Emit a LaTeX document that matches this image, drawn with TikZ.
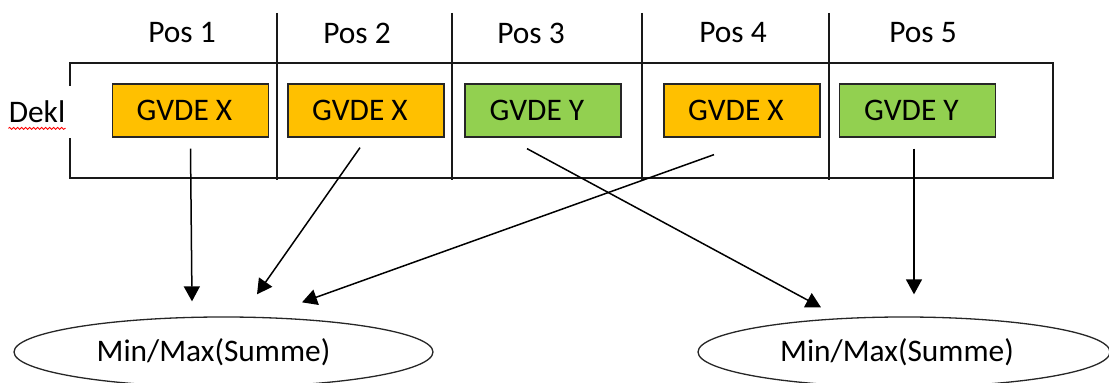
\documentclass[tikz,border=0pt]{standalone}
\usepackage{fontspec}
\setmainfont{Carlito}
\usetikzlibrary{arrows.meta,shapes.geometric,decorations.pathmorphing}
\definecolor{gvdex}{HTML}{FFC000}
\definecolor{gvdey}{HTML}{92D050}

\begin{document}
\begin{tikzpicture}[x=0.5pt, y=-0.5pt,
    every node/.style={font=\fontsize{15.7}{19}\selectfont},
    gvde/.style={draw=black!85, line width=0.65pt, minimum width=78pt,
      minimum height=26.5pt, inner sep=0pt, execute at end node=\hspace*{6pt}},
    summe/.style={draw=black!85, ellipse, line width=0.65pt, inner sep=0pt,
      minimum height=35pt},
    arr/.style={-{Triangle[length=7.5pt,width=8pt]}, line width=0.75pt},
    grid/.style={line width=0.65pt, black!90}]

  \useasboundingbox (0,0) rectangle (1109,383);

  %--- Frame with the five positions ---
  \draw[grid] (70,86) -- (70,63) -- (1053,63) -- (1053,178) -- (70,178) -- (70,138);
  \foreach \xd in {277,452,642,829}
    \draw[grid] (\xd,13) -- (\xd,180);

  %--- Headings ---
  \node (p1) at (182,33) {Pos 1};
  \node (p2) at (357,33) {Pos 2};
  \node (p3) at (531,33) {Pos 3};
  \node (p4) at (733,33) {Pos 4};
  \node (p5) at (923,33) {Pos 5};

  %--- Row label with spell-check underline ---
  \node[inner sep=0pt] (dekl) at (37,112) {Dekl};
  \draw[red, line width=0.4pt, decorate,
    decoration={snake, amplitude=0.5pt, segment length=2pt}]
    ([yshift=-2.5pt]dekl.south west) -- ([yshift=-2.5pt]dekl.south east);

  %--- GVDE boxes ---
  \node[gvde, fill=gvdex] (b1) at (190.5,110.5) {GVDE X};
  \node[gvde, fill=gvdex] (b2) at (366,110.5) {GVDE X};
  \node[gvde, fill=gvdey] (b3) at (543,110.5) {GVDE Y};
  \node[gvde, fill=gvdex] (b4) at (742,110.5) {GVDE X};
  \node[gvde, fill=gvdey] (b5) at (917.5,110.5) {GVDE Y};

  %--- Results ---
  \node[summe, minimum width=209.5pt] (e1) at (223.5,352) {Min/Max(Summe)\hspace*{10pt}};
  \node[summe, minimum width=206pt] (e2) at (904,352) {Min/Max(Summe)\hspace*{7pt}};

  %--- Arrows ---
  \draw[arr] ([yshift=-5.5pt]b1.south) -- ([xshift=-15.75pt,yshift=7.5pt]e1.north);
  \draw[arr] ([xshift=-3pt,yshift=-5pt]b2.south) -- ([xshift=16.75pt,yshift=11pt]e1.north);
  \draw[arr] ([xshift=-14pt,yshift=-8.5pt]b4.south) -- ([xshift=39.25pt,yshift=7pt]e1.north);
  \draw[arr] ([xshift=-8pt,yshift=-5.5pt]b3.south) -- ([xshift=-41.5pt,yshift=4.5pt]e2.north);
  \draw[arr] ([xshift=-1.75pt,yshift=-5.5pt]b5.south) -- ([xshift=5pt,yshift=11pt]e2.north);

\end{tikzpicture}
\end{document}
